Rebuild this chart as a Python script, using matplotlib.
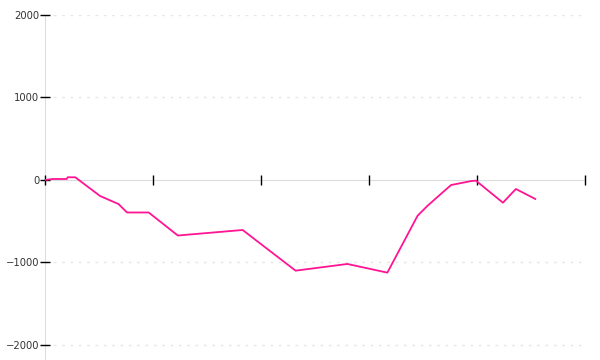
import matplotlib
matplotlib.use("Agg")
import matplotlib.pyplot as plt

# cumulative series, x in axis units (tick spacing = 1)
xs = [0.0, 0.07, 0.2, 0.21, 0.28, 0.51, 0.68, 0.76, 0.96, 1.23, 1.83,
      2.32, 2.80, 3.17, 3.45, 3.54, 3.69, 3.76, 3.95, 3.99, 4.24, 4.36, 4.54]
vals = [0, 12, 12, 33, 33, -194, -291, -394, -394, -673, -606,
        -1099, -1018, -1123, -433, -315, -141, -61, -12, -8, -275, -109, -230]
yticks = [-2000, -1000, 0, 1000, 2000]
xticks = [0, 1, 2, 3, 4, 5]

fig = plt.figure(figsize=(6, 3.6), dpi=100)
ax = fig.add_axes([45/600, 0, 540/600, 345/360])

ax.plot(xs, vals, color="#ff1493", lw=1.3, solid_joinstyle="round", zorder=3)

ax.set_xlim(0, 5)
ax.set_ylim(-2182, 2000)
ax.set_xticks(xticks)
ax.set_xticklabels([""] * len(xticks))
ax.set_yticks(yticks)
ax.set_yticklabels(["\u22122000", "\u22121000", "0", "1000", "2000"])

for v in [-2000, -1000, 1000, 2000]:
    ax.axhline(v, color="#e6e6e6", lw=1, ls=(0, (2, 4)), zorder=0)

ax.spines["top"].set_visible(False)
ax.spines["right"].set_visible(False)
ax.spines["left"].set_color("#dddddd")
ax.spines["left"].set_zorder(1)
ax.spines["bottom"].set_position(("data", 0))
ax.spines["bottom"].set_color("#dddddd")
ax.spines["bottom"].set_zorder(1)

ax.tick_params(axis="y", direction="inout", length=7.2, width=1, color="black",
               labelsize=7.2, labelcolor="#333333", pad=0.5)
ax.tick_params(axis="x", direction="inout", length=6.5, width=1, color="black")

fig.savefig("out.png", dpi=100)
